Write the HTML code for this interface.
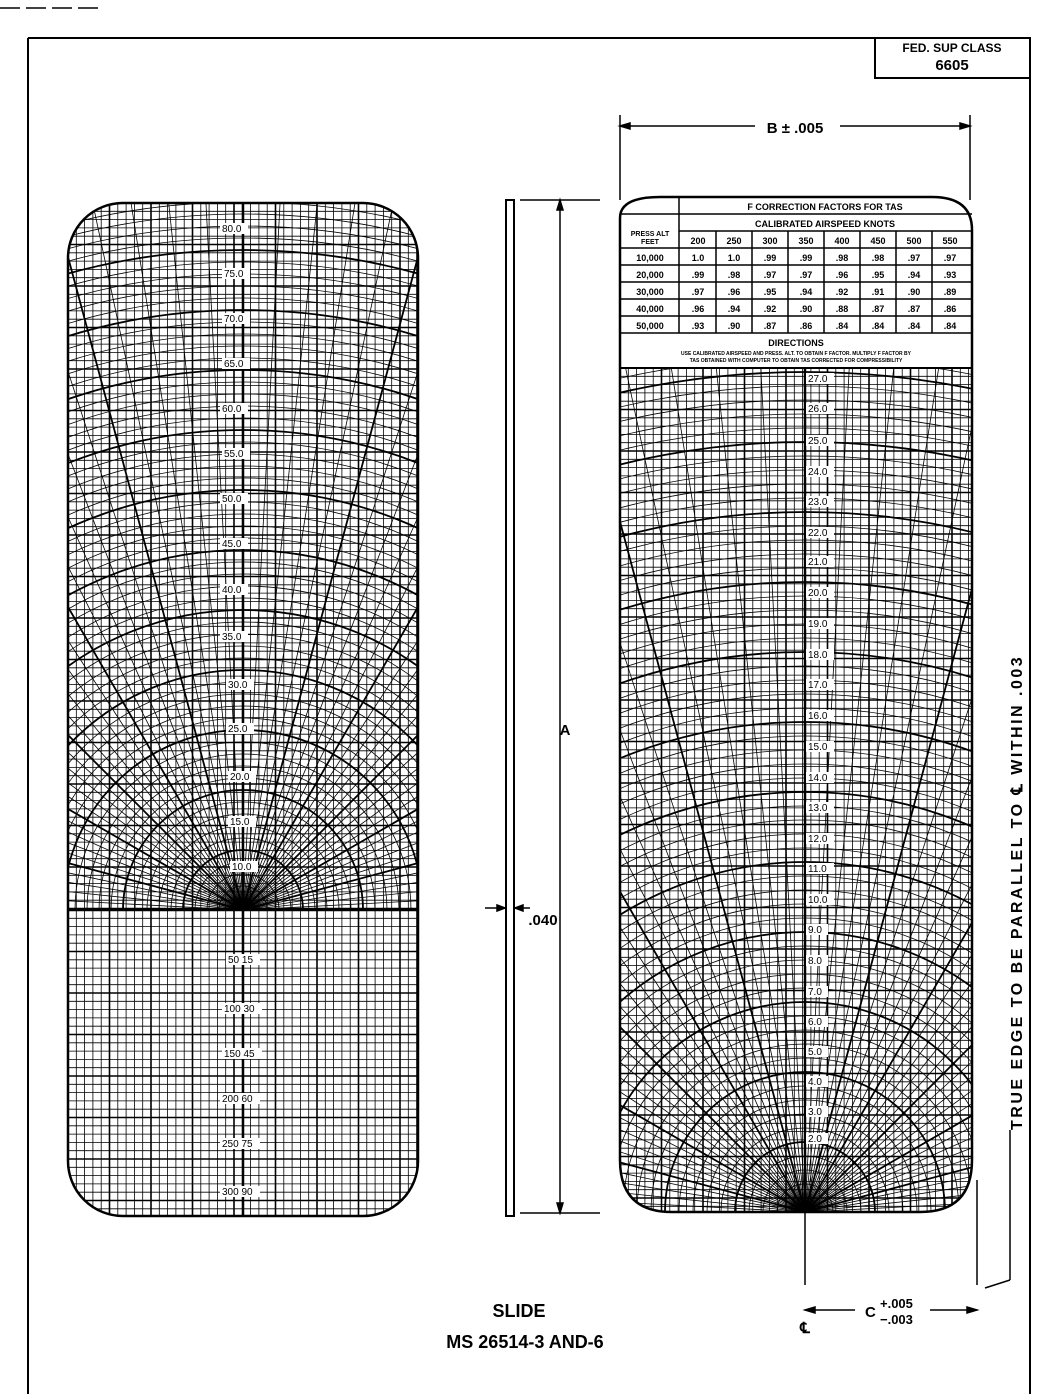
<!DOCTYPE html>
<html><head><meta charset="utf-8"><style>
html,body{margin:0;padding:0;background:#fff;width:1037px;height:1396px;overflow:hidden;}
body{position:relative;font-family:"Liberation Sans",sans-serif;}
svg{position:absolute;left:0;top:0;display:block;}
</style></head><body>
<svg id="s" width="1037" height="1396" viewBox="0 0 1037 1396" xmlns="http://www.w3.org/2000/svg">
<defs>
<clipPath id="cl"><rect x="68" y="203" width="350" height="1013" rx="55"/></clipPath>
<clipPath id="clTop"><rect x="68" y="203" width="350" height="707"/></clipPath>
<clipPath id="cr"><path d="M620,368 H972 V1160 Q972,1212 920,1212 H672 Q620,1212 620,1160 Z"/></clipPath>
</defs>
<g fill="none" stroke="#000">
<line x1="0" y1="8" x2="100" y2="8" stroke-width="1.5" stroke-dasharray="20 6"/>
<line x1="28" y1="38" x2="1030" y2="38" stroke-width="2"/>
<line x1="28" y1="38" x2="28" y2="1394" stroke-width="2"/>
<line x1="1030" y1="38" x2="1030" y2="1394" stroke-width="2"/>
<rect x="875" y="38" width="155" height="40" stroke-width="2"/>
</g>
<g id="left" clip-path="url(#cl)" stroke="#000" fill="none"></g>
<g id="right" clip-path="url(#cr)" stroke="#000" fill="none"></g>
<g fill="none" stroke="#000" stroke-width="2.5">
<rect x="68" y="203" width="350" height="1013" rx="55"/>
<line x1="68" y1="910" x2="418" y2="910"/>
<path d="M620,218 Q620,197 660,197 H932 Q972,197 972,230 V1160 Q972,1212 920,1212 H672 Q620,1212 620,1160 Z"/>
<rect x="506" y="200" width="8" height="1016" stroke-width="2"/>
</g>
<g stroke="#000" fill="none" stroke-width="1.5">
<line x1="620" y1="214" x2="972" y2="214"/>
<line x1="679" y1="197" x2="679" y2="333"/>
<line x1="679" y1="231" x2="972" y2="231"/>
<line x1="620" y1="248" x2="972" y2="248"/>
<line x1="620" y1="265" x2="972" y2="265"/>
<line x1="620" y1="282" x2="972" y2="282"/>
<line x1="620" y1="299" x2="972" y2="299"/>
<line x1="620" y1="316" x2="972" y2="316"/>
<line x1="620" y1="333" x2="972" y2="333"/>
<line x1="620" y1="368" x2="972" y2="368" stroke-width="2"/>
<line x1="716" y1="231" x2="716" y2="333"/><line x1="752" y1="231" x2="752" y2="333"/>
<line x1="788" y1="231" x2="788" y2="333"/><line x1="824" y1="231" x2="824" y2="333"/>
<line x1="860" y1="231" x2="860" y2="333"/><line x1="896" y1="231" x2="896" y2="333"/>
<line x1="932" y1="231" x2="932" y2="333"/>
</g>
<g font-family="Liberation Sans, sans-serif" font-weight="bold" font-size="9" text-anchor="middle" fill="#000">
<text x="825" y="210">F CORRECTION FACTORS FOR TAS</text>
<text x="825" y="227">CALIBRATED AIRSPEED KNOTS</text>
<text x="650" y="236" font-size="7">PRESS ALT</text><text x="650" y="244" font-size="7">FEET</text>
<g id="tbl"></g>
<text x="796" y="346">DIRECTIONS</text>
<text x="796" y="355" font-size="5">USE CALIBRATED AIRSPEED AND PRESS. ALT. TO OBTAIN F FACTOR. MULTIPLY F FACTOR BY</text>
<text x="796" y="362" font-size="5">TAS OBTAINED WITH COMPUTER TO OBTAIN TAS CORRECTED FOR COMPRESSIBILITY</text>
</g>
<g font-family="Liberation Sans, sans-serif" font-weight="bold" fill="#000">
<text x="952" y="52" font-size="12" text-anchor="middle">FED. SUP CLASS</text>
<text x="952" y="70" font-size="15" text-anchor="middle">6605</text>
<text x="519" y="1317" font-size="18" text-anchor="middle">SLIDE</text>
<text x="525" y="1348" font-size="18" text-anchor="middle">MS 26514-3 AND-6</text>
<text x="795" y="133" font-size="15" text-anchor="middle">B ± .005</text>
<text x="543" y="925" font-size="15" text-anchor="middle">.040</text>
<text x="565" y="735" font-size="15" text-anchor="middle">A</text>
<text x="865" y="1317" font-size="15">C</text>
<text x="880" y="1308" font-size="13">+.005</text>
<text x="880" y="1324" font-size="13">−.003</text>
<text x="805" y="1333" font-size="15" text-anchor="middle">℄</text>
<text transform="translate(1022,1130) rotate(-90)" font-size="16" letter-spacing="2.5">TRUE EDGE TO BE PARALLEL TO ℄ WITHIN .003</text>
</g>
<g stroke="#000" fill="#000" stroke-width="1.5">
<line x1="620" y1="115" x2="620" y2="200"/><line x1="970" y1="115" x2="970" y2="200"/>
<line x1="620" y1="126" x2="755" y2="126"/><line x1="840" y1="126" x2="970" y2="126"/>
<path d="M620,126 l10,-3 v6z"/><path d="M970,126 l-10,-3 v6z"/>
<line x1="560" y1="200" x2="560" y2="1213"/>
<line x1="520" y1="200" x2="600" y2="200"/><line x1="520" y1="1213" x2="600" y2="1213"/>
<path d="M560,200 l-3,10 h6z"/><path d="M560,1213 l-3,-10 h6z"/>
<line x1="485" y1="908" x2="505" y2="908"/><path d="M505,908 l-8,-3 v6z"/>
<line x1="515" y1="908" x2="530" y2="908"/><path d="M515,908 l8,-3 v6z"/>
<line x1="805" y1="1212" x2="805" y2="1285"/>
<line x1="977" y1="1180" x2="977" y2="1285"/>
<line x1="805" y1="1310" x2="855" y2="1310"/><line x1="930" y1="1310" x2="977" y2="1310"/>
<path d="M805,1310 l10,-3 v6z"/><path d="M977,1310 l-10,-3 v6z"/>
<line x1="1010" y1="1130" x2="1010" y2="1280"/>
<line x1="1010" y1="1280" x2="985" y2="1288"/>
</g>
</svg>
<script>
var NS="http://www.w3.org/2000/svg";
function el(p,t,a){var e=document.createElementNS(NS,t);for(var k in a)e.setAttribute(k,a[k]);p.appendChild(e);return e;}
function grid(g,x0,y0,x1,y1,st){
 for(var x=x0,i=0;x<=x1;x+=st,i++) el(g,"line",{x1:x,y1:y0,x2:x,y2:y1,"stroke-width":i%5==0?1.6:0.8});
 for(var y=y0,i=0;y<=y1;y+=st,i++) el(g,"line",{x1:x0,y1:y,x2:x1,y2:y,"stroke-width":i%5==0?1.6:0.8});
}
function polar(g,cx,cy,rmax,st,sign){
 for(var r=st,i=1;r<=rmax;r+=st,i++) el(g,"circle",{cx:cx,cy:cy,r:r,"stroke-width":i%5==0?1.8:0.8});
 for(var a=0;a<=180;a+=3){var t=a*Math.PI/180;el(g,"line",{x1:cx,y1:cy,x2:cx+Math.cos(t)*rmax,y2:cy-sign*Math.sin(t)*rmax,"stroke-width":a%15==0?1.8:0.8});}
}
var L=document.getElementById("left");
var lt=el(L,"g",{"clip-path":"url(#clTop)"});
grid(lt,68,203,418,910,8.3);
polar(lt,243,910,760,12,1);
grid(L,68,910,418,1216,8.3);
el(L,"line",{x1:243,y1:203,x2:243,y2:1216,"stroke-width":2.5});
var R=document.getElementById("right");
grid(R,620,368,972,1212,8.3);
polar(R,805,1212,900,14,1);
el(R,"line",{x1:805,y1:368,x2:805,y2:1212,"stroke-width":2.5});
var lab=document.getElementById("s");
function txt(x,y,s){el(lab,"rect",{x:x-2,y:y-9,width:s.length*6+4,height:11,fill:"#fff"});var t=el(lab,"text",{x:x,y:y,"font-size":10,"font-family":"Liberation Sans, sans-serif"});t.textContent=s;}
var ll=[[222,232,"80.0"],[224,277,"75.0"],[224,322,"70.0"],[224,367,"65.0"],[222,412,"60.0"],[224,457,"55.0"],[222,502,"50.0"],[222,547,"45.0"],[222,593,"40.0"],[222,640,"35.0"],[228,688,"30.0"],[228,732,"25.0"],[230,780,"20.0"],[230,825,"15.0"],[232,870,"10.0"],[228,963,"50 15"],[224,1012,"100 30"],[224,1057,"150 45"],[222,1102,"200 60"],[222,1147,"250 75"],[222,1195,"300 90"]];
ll.forEach(function(a){txt(a[0],a[1],a[2]);});
var rl=[[808,382,"27.0"],[808,412,"26.0"],[808,444,"25.0"],[808,475,"24.0"],[808,505,"23.0"],[808,536,"22.0"],[808,565,"21.0"],[808,596,"20.0"],[808,627,"19.0"],[808,658,"18.0"],[808,688,"17.0"],[808,719,"16.0"],[808,750,"15.0"],[808,781,"14.0"],[808,811,"13.0"],[808,842,"12.0"],[808,872,"11.0"],[808,903,"10.0"],[808,933,"9.0"],[808,964,"8.0"],[808,995,"7.0"],[808,1025,"6.0"],[808,1055,"5.0"],[808,1085,"4.0"],[808,1115,"3.0"],[808,1142,"2.0"]];
rl.forEach(function(a){txt(a[0],a[1],a[2]);});
var T=document.getElementById("tbl");
var hdr=["200","250","300","350","400","450","500","550"];
var rows=[["10,000","1.0","1.0",".99",".99",".98",".98",".97",".97"],["20,000",".99",".98",".97",".97",".96",".95",".94",".93"],["30,000",".97",".96",".95",".94",".92",".91",".90",".89"],["40,000",".96",".94",".92",".90",".88",".87",".87",".86"],["50,000",".93",".90",".87",".86",".84",".84",".84",".84"]];
hdr.forEach(function(h,i){var t=el(T,"text",{x:698+i*36,y:244});t.textContent=h;});
rows.forEach(function(r,j){r.forEach(function(c,i){var t=el(T,"text",{x:i==0?650:698+(i-1)*36,y:261+j*17});t.textContent=c;});});
</script>
</body></html>
